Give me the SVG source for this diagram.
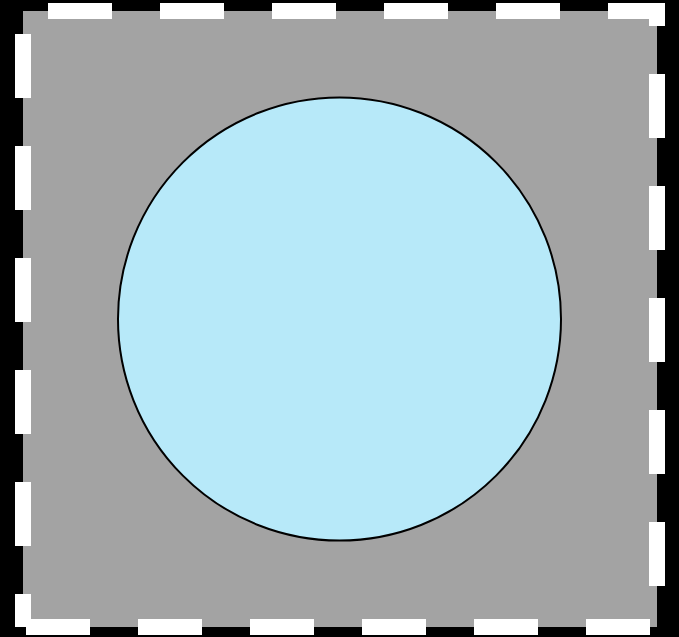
<svg xmlns="http://www.w3.org/2000/svg" width="679" height="637" viewBox="0 0 679 637">
  <style>
    .frame { fill: #a3a3a3; stroke: #ffffff; stroke-width: 16; stroke-dasharray: 64 48; stroke-dashoffset: 31; }
    .node { fill: #b7e9f9; stroke: #000000; stroke-width: 2; }
  </style>
  <rect x="0" y="0" width="679" height="637" fill="#000000"/>
  <g id="frame">
    <path class="frame" d="M23 627 V11 H657 V627 Z"/>
  </g>
  <g id="circle-node">
    <circle class="node" cx="339.5" cy="319" r="221.5"/>
  </g>
  <g id="connectors"></g>
</svg>
